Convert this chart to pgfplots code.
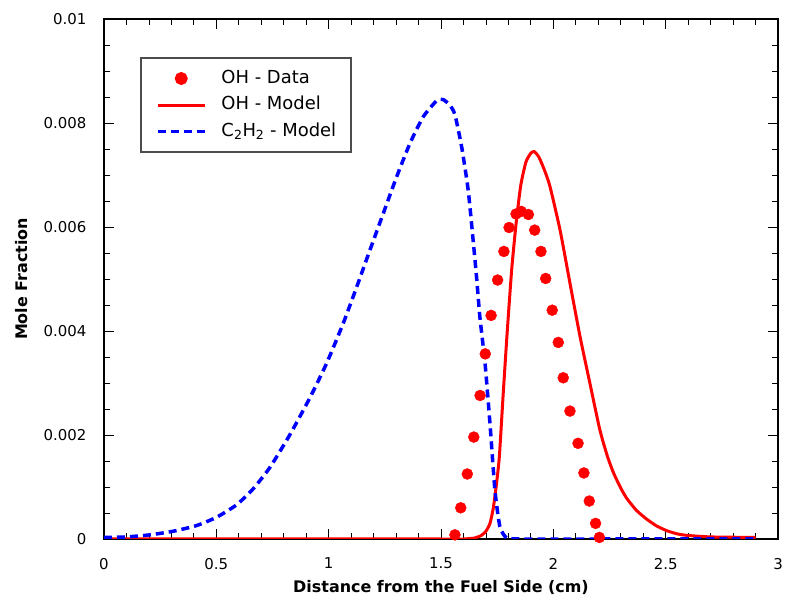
\documentclass[border=0pt]{standalone}
\usepackage{fontspec}
\setmainfont{DejaVu Sans}
\usepackage{pgfplots}
\pgfplotsset{compat=1.18}
\definecolor{ohred}{RGB}{255,0,0}
\definecolor{cblue}{RGB}{0,0,255}
\pgfplotsset{
  linelegend/.style={legend image code/.code={\path[draw=none,fill=none] (0bp,-6bp) rectangle (47bp,6bp); \draw[##1] (0bp,0bp) -- (47bp,0bp);}},
  marklegend/.style={legend image code/.code={\path[draw=none,fill=none] (0bp,-6bp) rectangle (47bp,6bp); \draw[mark repeat=2,mark phase=2,##1] plot coordinates {(0bp,0bp) (23.5bp,0bp) (47bp,0bp)};}},
}
\begin{document}
\begin{tikzpicture}
\begin{axis}[
  scale only axis, width=674bp, height=520bp,
  xmin=0, xmax=3, ymin=0, ymax=0.01,
  scaled y ticks=false, scaled x ticks=false,
  xtick={0,0.5,1,1.5,2,2.5,3}, xticklabels={0,0.5,1,1.5,2,2.5,3},
  ytick={0,0.002,0.004,0.006,0.008,0.01}, yticklabels={0,0.002,0.004,0.006,0.008,0.01},
  minor x tick num=4, minor y tick num=3,
  tick align=inside, major tick length=10bp, minor tick length=6bp,
  axis line style={line width=1.2bp},
  every tick/.style={black, line width=0.8bp},
  ticklabel style={font=\fontsize{15}{18}\selectfont},
  yticklabel style={xshift=-14bp},
  xticklabel style={yshift=-15.5bp},
  xlabel={Distance from the Fuel Side (cm)},
  ylabel={Mole Fraction},
  every axis x label/.style={at={(axis description cs:0.5,-0.0942)}, anchor=center, font=\fontsize{16}{19}\selectfont\bfseries},
  every axis y label/.style={at={(axis description cs:-0.1217,0.5)}, rotate=90, anchor=center, font=\fontsize{16}{19}\selectfont\bfseries},
  legend cell align=left,
  legend style={at={(axis description cs:0.0534,0.9269)}, anchor=north west,
    draw=black!70, line width=2bp, font=\fontsize{18}{21}\selectfont,
    inner xsep=15bp, inner ysep=9bp, row sep=3.5bp,
    nodes={inner xsep=0bp, inner ysep=3bp, text height=13bp, text depth=4bp},
    /tikz/every odd column/.append style={column sep=15bp}},
]
\addplot[only marks, mark=*, mark size=5.5bp, color=ohred, mark options={draw=ohred, fill=ohred}, marklegend]
coordinates {
(1.562,0.00008) (1.588,0.00060) (1.617,0.00125) (1.646,0.00196) (1.674,0.00276)
(1.697,0.00356) (1.723,0.00430) (1.752,0.00498) (1.780,0.00553) (1.803,0.00599)
(1.834,0.00625) (1.857,0.00630) (1.889,0.00624) (1.917,0.00594) (1.945,0.00553)
(1.966,0.00501) (1.995,0.00440) (2.022,0.00378) (2.044,0.00310) (2.074,0.00246)
(2.110,0.00184) (2.136,0.00127) (2.160,0.00073) (2.188,0.00030) (2.205,0.00003)
};
\addlegendentry{OH - Data}
\addplot[color=ohred, line width=3bp, smooth, tension=0.35, linelegend]
coordinates {
(0,0) (0.5,0) (1.0,0) (1.5,0) (1.60,0) (1.65,0.00002) (1.68,0.00007) (1.70,0.00015)
(1.718,0.00030) (1.733,0.00060) (1.748,0.00110) (1.760,0.00160) (1.777,0.00280)
(1.795,0.00400) (1.815,0.00520) (1.835,0.00610) (1.855,0.00680) (1.878,0.00725)
(1.900,0.00742) (1.915,0.00745) (1.935,0.00735) (1.960,0.00710) (1.985,0.00678)
(2.030,0.00594) (2.074,0.00492) (2.119,0.00389) (2.163,0.00299) (2.207,0.00210)
(2.240,0.00160) (2.267,0.00128) (2.300,0.00098) (2.327,0.00078) (2.370,0.00055)
(2.416,0.00038) (2.460,0.00025) (2.505,0.00016) (2.550,0.00010) (2.594,0.00007)
(2.70,0.00004) (2.9,0.00003)
};
\addlegendentry{OH - Model}
\addplot[color=cblue, line width=3.5bp, dash pattern=on 8bp off 5bp, smooth, tension=0.35, linelegend]
coordinates {
(0,0.00003) (0.1,0.00004) (0.205,0.00008) (0.309,0.00015) (0.413,0.00026)
(0.502,0.00042) (0.591,0.00066) (0.665,0.00097) (0.739,0.00138) (0.828,0.00201)
(0.917,0.00272) (0.991,0.00338) (1.065,0.00415) (1.125,0.00485) (1.184,0.00556)
(1.243,0.00626) (1.303,0.00697) (1.362,0.00761) (1.421,0.00812) (1.481,0.00843)
(1.510,0.00845) (1.540,0.00834) (1.562,0.00816) (1.592,0.00754) (1.621,0.00671)
(1.644,0.00570) (1.659,0.00500) (1.673,0.00427) (1.696,0.00338) (1.718,0.00222)
(1.74,0.00094) (1.762,0.00024) (1.792,0.00002) (1.85,0) (2.2,0) (2.9,0)
};
\addlegendentry{C\textsubscript{2}H\textsubscript{2} - Model}
\end{axis}
\pgfresetboundingbox
\useasboundingbox ([shift={(-104bp,-62bp)}]current axis.south west) rectangle ([shift={(9bp,19bp)}]current axis.north east);
\end{tikzpicture}
\end{document}
